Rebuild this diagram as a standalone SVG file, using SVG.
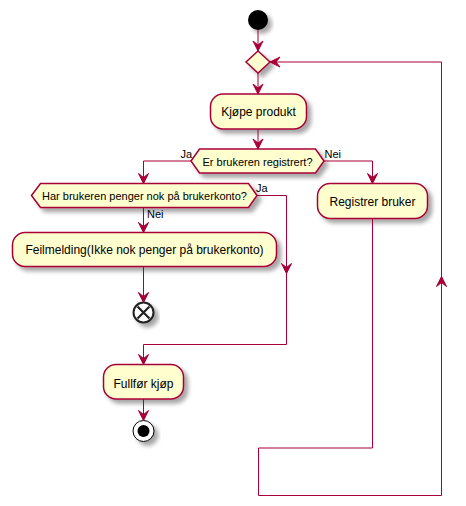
<svg xmlns="http://www.w3.org/2000/svg" width="466" height="506" viewBox="0 0 466 506">
<defs>
<filter id="sh" x="-20%" y="-20%" width="150%" height="160%">
<feGaussianBlur in="SourceAlpha" stdDeviation="2"/>
<feOffset dx="4" dy="4" result="b"/>
<feComponentTransfer><feFuncA type="linear" slope="0.35"/></feComponentTransfer>
<feMerge><feMergeNode/><feMergeNode in="SourceGraphic"/></feMerge>
</filter>
</defs>
<style>
.box{fill:#FEFECE;stroke:#A80036;stroke-width:1.5;filter:url(#sh)}
.ln{fill:none;stroke:#A80036;stroke-width:1}
.ah{fill:#A80036;stroke:#A80036;stroke-width:1}
.t12{font-family:"Liberation Sans",Arial,sans-serif;font-size:12px;fill:#000;text-anchor:middle}
.t11{font-family:"Liberation Sans",Arial,sans-serif;font-size:11px;fill:#000;text-anchor:middle}
.lb{font-family:"Liberation Sans",Arial,sans-serif;font-size:11px;fill:#000}
</style>
<g id="start"><circle cx="258" cy="20" r="10" fill="#000" filter="url(#sh)"/></g>
<g id="merge"><polygon class="box" points="258,51 270,62 258,73 246,62"/></g>
<g id="kjope"><rect class="box" x="210.5" y="94" width="96" height="35" rx="12.5"/><text class="t12" x="258.5" y="116">Kjøpe produkt</text></g>
<g id="registrert"><polygon class="box" points="191,161 199.5,149 315.5,149 324,161 315.5,173 199.5,173"/><text class="t11" x="257.5" y="165.5">Er brukeren registrert?</text></g>
<g id="penger"><polygon class="box" points="31.5,195.5 40.5,183.5 248.5,183.5 257,195.5 248.5,207.5 40.5,207.5"/><text class="t11" x="144.5" y="199.5">Har brukeren penger nok på brukerkonto?</text></g>
<g id="feilmelding"><rect class="box" x="12.5" y="232.5" width="264" height="34" rx="12.5"/><text class="t12" x="144.5" y="253.5">Feilmelding(Ikke nok penger på brukerkonto)</text></g>
<g id="end"><circle cx="143.5" cy="312.5" r="10" fill="#fff" stroke="#222" stroke-width="2" filter="url(#sh)"/><path d="M137.5,306.5 L149.5,318.5 M149.5,306.5 L137.5,318.5" stroke="#222" stroke-width="2.2"/></g>
<g id="registrer"><rect class="box" x="317.5" y="183.5" width="110" height="35" rx="12.5"/><text class="t12" x="372.5" y="205.5">Registrer bruker</text></g>
<g id="fullfor"><rect class="box" x="103.5" y="364.5" width="80" height="34.5" rx="12.5"/><text class="t12" x="143.5" y="387.5">Fullfør kjøp</text></g>
<g id="stop"><circle cx="143.5" cy="431" r="10.5" fill="#fff" stroke="#000" stroke-width="1" filter="url(#sh)"/><circle cx="143.5" cy="431" r="6" fill="#000"/></g>
<g id="connectors">
<path class="ln" d="M258,30 V51"/><polygon class="ah" points="253,41 258,51 263,41 258,45"/>
<path class="ln" d="M258,73 V94"/><polygon class="ah" points="253,84 258,94 263,84 258,88"/>
<path class="ln" d="M258,129 V149"/><polygon class="ah" points="253,139 258,149 263,139 258,143"/>
<path class="ln" d="M191,161 H143.5 V183.5"/><polygon class="ah" points="138.5,173.5 143.5,183.5 148.5,173.5 143.5,177.5"/>
<text class="lb" x="180.5" y="158">Ja</text>
<path class="ln" d="M324,161 H372.5 V183.5"/><polygon class="ah" points="367.5,173.5 372.5,183.5 377.5,173.5 372.5,177.5"/>
<text class="lb" x="324.5" y="158">Nei</text>
<path class="ln" d="M143.5,207.5 V232.5"/><polygon class="ah" points="138.5,222.5 143.5,232.5 148.5,222.5 143.5,226.5"/>
<text class="lb" x="147" y="218">Nei</text>
<path class="ln" d="M257,195.5 H286.5 V344.5 H143.5 V364.5"/><polygon class="ah" points="281.5,263.5 286.5,273.5 291.5,263.5 286.5,267.5"/><polygon class="ah" points="138.5,354.5 143.5,364.5 148.5,354.5 143.5,358.5"/>
<text class="lb" x="256" y="192">Ja</text>
<path class="ln" d="M143.5,266.5 V302.5"/><polygon class="ah" points="138.5,292.5 143.5,302.5 148.5,292.5 143.5,296.5"/>
<path class="ln" d="M143.5,399 V420.5"/><polygon class="ah" points="138.5,410.5 143.5,420.5 148.5,410.5 143.5,414.5"/>
<path class="ln" d="M372.5,218.5 V448 H258.5 V495.5 H441.5 V62 H270"/><polygon class="ah" points="436.5,286.5 441.5,276.5 446.5,286.5 441.5,282.5"/><polygon class="ah" points="280,57 270,62 280,67 276,62"/>
</g>
</svg>
